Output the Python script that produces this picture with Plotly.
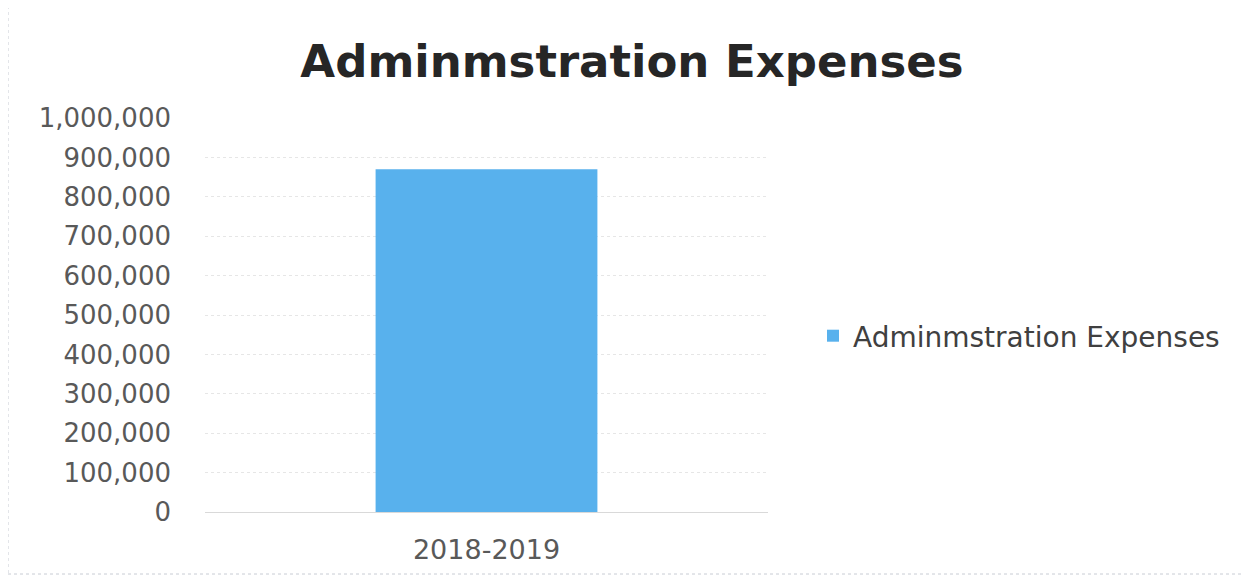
import plotly.graph_objects as go

categories = ["2018-2019"]
values = [870000]
series_name = "Adminmstration Expenses"
title_text = "Adminmstration Expenses"
tick_vals = [0, 100000, 200000, 300000, 400000, 500000, 600000, 700000, 800000, 900000, 1000000]

W, H = 1249, 576
OFF = 8  # page body offset
ml = 205 - OFF
mt = 118 - OFF
mr = W - (768 - OFF)
mb = H - (512 - OFF)
pw, ph = W - ml - mr, H - mt - mb

FONT = "DejaVu Sans"

fig = go.Figure()
fig.add_trace(go.Bar(x=categories, y=values, name=series_name,
                     marker=dict(color="#58B1ED", line=dict(width=0))))

fig.update_layout(
    width=W, height=H,
    margin=dict(l=ml, r=mr, t=mt, b=mb),
    paper_bgcolor="white", plot_bgcolor="white",
    bargap=0.606,
    showlegend=True,
    legend=dict(x=(813 - 768) / pw + 1, y=(H - mb - (336 - OFF)) / ph,
                xanchor="left", yanchor="middle",
                font=dict(family=FONT, size=28, color="#404040"),
                itemwidth=30),
    title=dict(text="<b>" + title_text + "</b>", x=(632 - OFF) / W, xanchor="center",
               y=1 - (61 - OFF) / H, yanchor="middle",
               font=dict(family=FONT, size=45, color="#262626")),
    font=dict(family=FONT, color="#595959"),
)
fig.update_yaxes(range=[0, 1000000], tickvals=tick_vals, tickformat=",",
                 showgrid=True, gridcolor="#e6e6e6", gridwidth=1, griddash="dot",
                 zeroline=False, showline=False, ticks="",
                 tickfont=dict(size=26, color="#595959"), ticklabelstandoff=33)
fig.update_xaxes(showline=True, linecolor="#d9d9d9", linewidth=1,
                 ticks="", tickfont=dict(size=27, color="#595959"),
                 ticklabelstandoff=14)

# outer border of chart area
fig.add_shape(type="rect", xref="paper", yref="paper",
              x0=(8 - 205) / pw, x1=(1245 - 205) / pw,
              y0=(512 - 574) / ph, y1=(512 - 6) / ph,
              line=dict(color="#c8ccd4", width=1, dash="dot"), layer="below")

fig.write_html("out.html")
